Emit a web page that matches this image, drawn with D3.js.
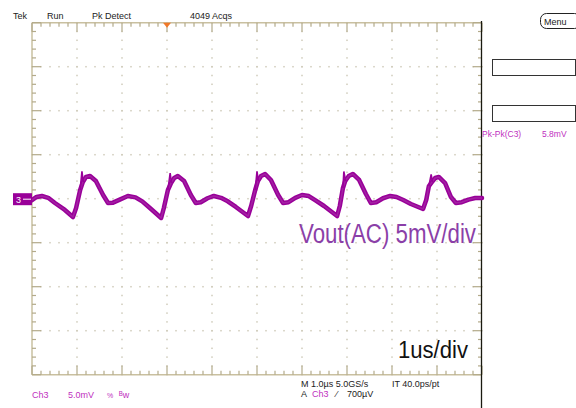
<!DOCTYPE html>
<html lang="en">
<head>
  <meta charset="UTF-8">
  <title>Vout ripple</title>
  <script src="https://d3js.org/d3.v7.min.js"></script>
  <style>
    body { margin: 0; background: #fff; }
    svg { display: block; font-family: "Liberation Sans", Arial, sans-serif; }
    .small { font-size: 9px; }
  </style>
</head>
<body>
  <div id="scope"></div>
  <script>
    const width = 576;
    const height = 408;

    // trace: time in us, voltage in mV (AC coupled)
    const traceT = [0, 0.1, 0.22, 0.36, 0.51, 0.73, 0.91, 0.98, 1.07, 1.13, 1.2, 1.29, 1.42, 1.58, 1.69, 1.8, 1.95, 2.13, 2.3, 2.45, 2.62, 2.87,
      2.93, 3.02, 3.09, 3.16, 3.24, 3.38, 3.53, 3.64, 3.75, 3.9, 4.04, 4.2, 4.35, 4.53, 4.8,
      4.87, 4.96, 5.02, 5.09, 5.18, 5.31, 5.47, 5.58, 5.7, 5.85, 6.0, 6.15, 6.3, 6.49, 6.78,
      6.84, 6.91, 6.96, 7.04, 7.13, 7.27, 7.42, 7.53, 7.65, 7.8, 7.96, 8.1, 8.25, 8.42, 8.69,
      8.76, 8.82, 8.89, 8.96, 9.04, 9.18, 9.31, 9.42, 9.55, 9.7, 9.85, 10];
    const traceV = [-0.15, 0.2, 0.31, 0.1, -0.49, -1.28, -2.08, -1.06, 0.99, 1.9, 2.47, 2.58, 2.01, 0.42, -0.49, -0.45, -0.1, 0.31, 0.15, -0.3, -1.06, -2.19,
      -1.06, 0.99, 1.78, 2.35, 2.58, 2.01, 0.42, -0.49, -0.4, 0.05, 0.31, 0.1, -0.3, -0.94, -1.97,
      -0.83, 0.99, 2.01, 2.58, 2.81, 2.13, 0.42, -0.49, -0.4, 0.1, 0.42, 0.3, -0.2, -0.83, -1.97,
      -0.83, 1.22, 2.01, 2.58, 2.81, 2.13, 0.53, -0.49, -0.4, 0.05, 0.31, 0.2, -0.15, -0.6, -1.17,
      -0.15, 1.44, 1.9, 2.35, 2.47, 1.78, 0.19, -0.49, -0.4, -0.1, 0.08, 0.08];

    // thin switching spikes on top of each rise
    const spikeT = [1.07, 1.11, 1.14, 3.02, 3.07, 3.1, 4.96, 5.0, 5.03, 6.91, 6.93, 6.97, 8.82, 8.87, 8.9];
    const spikeV = [0.99, 3.1, 1.9, 0.99, 2.9, 1.8, 0.99, 3.1, 2.0, 1.22, 3.1, 2.0, 1.44, 2.75, 1.9];

    const timeDivs = d3.range(0, 11);          // 1 us/div, 10 divisions
    const voltDivs = d3.range(-20, 21, 5);     // 5 mV/div, 8 divisions

    const topTexts = ["Tek", "Run", "Pk Detect", "4049 Acqs"];

    const svg = d3.select("#scope").append("svg")
      .attr("width", width).attr("height", height);

    const x = d3.scaleLinear().domain([0, 10]).range([32, 482]);
    const y = d3.scaleLinear().domain([-20, 20]).range([374.7, 22.7]);

    const frame = "#c9c0a0";
    const tickCol = "#b3aa8a";
    const dotCol = "#cfcbbb";

    // grid dots along the major lines
    const g = svg.append("g");
    const minorT = d3.range(0, 10.001, 0.2);
    const minorV = d3.range(-20, 20.001, 1);
    timeDivs.slice(1, -1).forEach(t => {
      minorV.forEach(v => {
        g.append("rect").attr("x", x(t) - 0.75).attr("y", y(v) - 0.75)
          .attr("width", 1.5).attr("height", 1.5).attr("fill", dotCol);
      });
    });
    voltDivs.slice(1, -1).forEach(v => {
      minorT.forEach(t => {
        g.append("rect").attr("x", x(t) - 0.75).attr("y", y(v) - 0.75)
          .attr("width", 1.5).attr("height", 1.5).attr("fill", dotCol);
      });
    });

    // frame with ticks
    const f = svg.append("g");
    f.append("line").attr("x1", x(0)).attr("x2", x(10)).attr("y1", y(20)).attr("y2", y(20))
      .attr("stroke", frame).attr("stroke-width", 1.5);
    f.append("line").attr("x1", x(0)).attr("x2", x(10)).attr("y1", y(-20)).attr("y2", y(-20))
      .attr("stroke", frame).attr("stroke-width", 1.5);
    f.append("line").attr("x1", x(0)).attr("x2", x(0)).attr("y1", y(20)).attr("y2", y(-20))
      .attr("stroke", frame).attr("stroke-width", 1.5);

    minorT.forEach((t, i) => {
      const len = i % 5 === 0 ? 9 : 4;
      f.append("line").attr("x1", x(t)).attr("x2", x(t)).attr("y1", y(20)).attr("y2", y(20) + len)
        .attr("stroke", tickCol).attr("stroke-width", 1.2);
      f.append("line").attr("x1", x(t)).attr("x2", x(t)).attr("y1", y(-20)).attr("y2", y(-20) - len)
        .attr("stroke", tickCol).attr("stroke-width", 1.2);
    });
    minorV.forEach((v, i) => {
      const len = i % 5 === 0 ? 9 : 4;
      f.append("line").attr("x1", x(0)).attr("x2", x(0) + len).attr("y1", y(v)).attr("y2", y(v))
        .attr("stroke", tickCol).attr("stroke-width", 1.2);
      f.append("line").attr("x1", x(10)).attr("x2", x(10) - len).attr("y1", y(v)).attr("y2", y(v))
        .attr("stroke", tickCol).attr("stroke-width", 1.2);
    });
    // right edge of the display
    f.append("line").attr("x1", 481.5).attr("x2", 481.5).attr("y1", 21).attr("y2", height)
      .attr("stroke", "#1a1a10").attr("stroke-width", 1.3);

    // trigger position marker
    svg.append("path")
      .attr("d", `M${x(3) - 4},${y(20)} L${x(3) + 4},${y(20)} L${x(3)},${y(20) + 5} Z`)
      .attr("fill", "#f07828");

    // waveform
    const pts = traceT.map((t, i) => [t, traceV[i]]);
    const line = d3.line().x(d => x(d[0])).y(d => y(d[1]));
    svg.append("path").datum(pts)
      .attr("d", line)
      .attr("fill", "none")
      .attr("stroke", "#990099")
      .attr("stroke-width", 4.5)
      .attr("stroke-linejoin", "round")
      .attr("stroke-linecap", "round");
    svg.append("path").datum(pts)
      .attr("d", line)
      .attr("fill", "none")
      .attr("stroke", "#a322a3")
      .attr("stroke-width", 1.5)
      .attr("stroke-linejoin", "round");

    const spikes = d3.range(0, spikeT.length, 3).map(i =>
      [0, 1, 2].map(k => [spikeT[i + k], spikeV[i + k]]));
    svg.selectAll(".spike").data(spikes).enter().append("path")
      .attr("class", "spike")
      .attr("d", d3.line().x(d => x(d[0])).y(d => y(d[1])))
      .attr("fill", "none")
      .attr("stroke", "#990099")
      .attr("stroke-width", 1.6);

    // channel marker
    svg.append("rect").attr("x", 13).attr("y", y(0) - 5.5).attr("width", 19).attr("height", 12)
      .attr("fill", "#990099");
    svg.append("text").attr("x", 16).attr("y", y(0) + 4).attr("class", "small")
      .attr("fill", "#fff").text("3");
    svg.append("line").attr("x1", 23).attr("x2", 31).attr("y1", y(0) + 0.5).attr("y2", y(0) + 0.5)
      .attr("stroke", "#fff").attr("stroke-width", 1);

    // header
    const topX = [13, 47, 92, 190];
    topTexts.forEach((s, i) => {
      svg.append("text").attr("x", topX[i]).attr("y", 19).attr("class", "small")
        .attr("fill", "#222").text(s);
    });
    svg.append("rect").attr("x", 540.5).attr("y", 13.5).attr("width", 40).attr("height", 15)
      .attr("rx", 6).attr("fill", "#fff").attr("stroke", "#222").attr("stroke-width", 1);
    svg.append("text").attr("x", 544).attr("y", 25).attr("class", "small")
      .attr("fill", "#222").text("Menu");

    // side panel
    svg.append("rect").attr("x", 492.5).attr("y", 59.5).attr("width", 83).attr("height", 16)
      .attr("fill", "#fff").attr("stroke", "#333");
    svg.append("rect").attr("x", 492.5).attr("y", 105.5).attr("width", 83).attr("height", 16)
      .attr("fill", "#fff").attr("stroke", "#333");
    svg.append("text").attr("x", 482).attr("y", 137).attr("class", "small")
      .attr("fill", "#c030c0").style("font-size", "8.5px").text("Pk-Pk(C3)");
    svg.append("text").attr("x", 542).attr("y", 137).attr("class", "small")
      .attr("fill", "#c030c0").style("font-size", "8.5px").text("5.8mV");

    // footer
    const mag = "#c030c0";
    svg.append("text").attr("x", 32).attr("y", 398).attr("class", "small").attr("fill", mag).text("Ch3");
    svg.append("text").attr("x", 68).attr("y", 398).attr("class", "small").attr("fill", mag).text("5.0mV");
    svg.append("text").attr("x", 107).attr("y", 398).attr("class", "small").attr("fill", mag)
      .style("font-size", "7px").text("%");
    svg.append("text").attr("x", 119).attr("y", 398).attr("class", "small").attr("fill", mag).text("ᴮw");
    svg.append("text").attr("x", 301).attr("y", 387).attr("class", "small").attr("fill", "#222").text("M 1.0µs 5.0GS/s");
    svg.append("text").attr("x", 392).attr("y", 387).attr("class", "small").attr("fill", "#222").text("IT 40.0ps/pt");
    svg.append("text").attr("x", 301).attr("y", 397).attr("class", "small").attr("fill", "#222").text("A");
    svg.append("text").attr("x", 312).attr("y", 397).attr("class", "small").attr("fill", mag).text("Ch3");
    svg.append("text").attr("x", 336).attr("y", 397).attr("class", "small").attr("fill", "#222").text("⁄");
    svg.append("text").attr("x", 347).attr("y", 397).attr("class", "small").attr("fill", "#222").text("700µV");

    // annotations
    svg.append("text").attr("x", 299).attr("y", 243)
      .attr("fill", "#8b3fa8")
      .style("font-family", "'Liberation Sans Narrow', 'Liberation Sans', Arial, sans-serif")
      .style("font-size", "27px")
      .attr("textLength", 177).attr("lengthAdjust", "spacingAndGlyphs")
      .text("Vout(AC) 5mV/div");
    svg.append("text").attr("x", 398).attr("y", 358)
      .attr("fill", "#111")
      .style("font-family", "'Liberation Sans Narrow', 'Liberation Sans', Arial, sans-serif")
      .style("font-size", "23px")
      .attr("textLength", 70).attr("lengthAdjust", "spacingAndGlyphs")
      .text("1us/div");
  </script>
</body>
</html>
